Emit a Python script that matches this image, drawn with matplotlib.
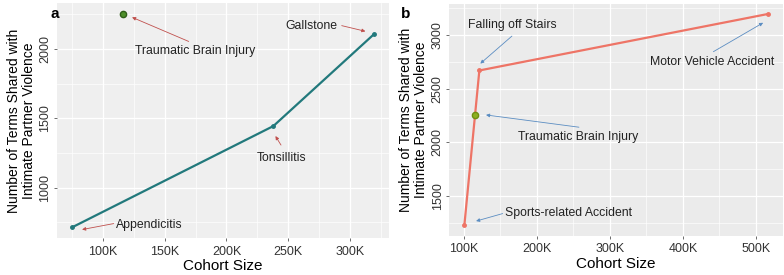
import matplotlib
matplotlib.use("Agg")
import matplotlib.pyplot as plt
from matplotlib.ticker import FuncFormatter, MultipleLocator

plt.rcParams['font.family'] = ['Liberation Sans', 'DejaVu Sans']

# panel a: conditions on the line
a_names = ['Appendicitis', 'Tonsillitis', 'Gallstone']
a_cohort = [74900, 238000, 319500]
a_terms = [715, 1445, 2107]

# panel b: accident types on the line
b_names = ['Sports-related Accident', 'Falling off Stairs', 'Motor Vehicle Accident']
b_cohort = [100800, 121300, 516000]
b_terms = [1231, 2669, 3194]

# traumatic brain injury (highlighted point, both panels)
tbi_name = 'Traumatic Brain Injury'
tbi_cohort = 116000
tbi_terms = 2255

# annotation placement: (label, arrow head xy, text xy, arrow tail xy)
a_notes = [
    (tbi_name, (123500, 2229), (174800, 1985), (169400, 2055)),
    ('Gallstone', (312600, 2128), (268500, 2164), (293400, 2169)),
    ('Tonsillitis', (239700, 1373), (244500, 1213), (244200, 1308)),
    ('Appendicitis', (83000, 699), (137800, 732), (108600, 742)),
]
b_notes = [
    ('Falling off Stairs', (122600, 2733), (166800, 3088), (165900, 2989)),
    (tbi_name, (130400, 2255), (256400, 2048), (257700, 2141)),
    ('Motor Vehicle Accident', (510000, 3113), (439700, 2752), (441900, 2844)),
    ('Sports-related Accident', (116800, 1267), (243200, 1347), (153200, 1337)),
]

ylabel = 'Number of Terms Shared with\nIntimate Partner Violence'


def k_fmt(v, pos):
    return f'{int(round(v / 1000))}K'


def style_axes(ax, bg, xmaj, ymaj):
    ax.set_facecolor(bg)
    for s in ax.spines.values():
        s.set_visible(False)
    ax.xaxis.set_major_locator(MultipleLocator(xmaj))
    ax.xaxis.set_minor_locator(MultipleLocator(xmaj / 2))
    ax.yaxis.set_major_locator(MultipleLocator(ymaj))
    ax.yaxis.set_minor_locator(MultipleLocator(ymaj / 2))
    ax.xaxis.set_major_formatter(FuncFormatter(k_fmt))
    ax.grid(which='major', color='white', lw=0.9)
    ax.grid(which='minor', color='white', lw=0.45)
    ax.set_axisbelow(True)
    ax.tick_params(which='major', length=2.5, width=0.6, color='#555555',
                   labelsize=9, labelcolor='#333333')
    ax.tick_params(which='minor', length=0)
    ax.tick_params(axis='x', pad=3)
    ax.tick_params(axis='y', pad=1.5)
    ax.set_xlabel('Cohort Size', fontsize=11, labelpad=1)
    ax.set_ylabel(ylabel, fontsize=10, linespacing=1.05)
    ax.yaxis.set_label_coords(-0.064, 0.5)
    ax.margins(0.05)


def add_notes(ax, notes, color):
    for label, head, txt, tail in notes:
        ax.annotate('', xy=head, xytext=tail,
                    arrowprops=dict(arrowstyle='-|>', color=color, lw=0.6,
                                    mutation_scale=5, shrinkA=0, shrinkB=0))
        ax.text(txt[0], txt[1], label, fontsize=8.8, color='#222222',
                ha='center', va='center')


fig = plt.figure(figsize=(7.84, 2.75), dpi=100)

ax_a = fig.add_axes([0.0727, 0.1345, 0.4235, 0.8545])
ax_a.plot(a_cohort, a_terms, color='#22797C', lw=1.6, marker='o', ms=2.5)
ax_a.plot([tbi_cohort], [tbi_terms], 'o', color='#4E8F2A', mec='#2F5F18', ms=4.5)
style_axes(ax_a, '#EFEFEF', 50000, 500)
add_notes(ax_a, a_notes, '#C0504D')

ax_b = fig.add_axes([0.573, 0.1436, 0.4253, 0.8436])
ax_b.plot(b_cohort, b_terms, color='#EE7466', lw=1.6, marker='o', ms=2.5)
ax_b.plot([tbi_cohort], [tbi_terms], 'o', color='#8DB020', mec='#6E8F10', ms=4.5)
style_axes(ax_b, '#EBEBEB', 100000, 500)
add_notes(ax_b, b_notes, '#5B8DC2')

for ax in (ax_a, ax_b):
    for lab in ax.get_yticklabels():
        lab.set_rotation(90)
        lab.set_va('center')

fig.text(0.064, 0.975, 'a', fontsize=11, fontweight='bold', ha='left', va='top')
fig.text(0.512, 0.975, 'b', fontsize=11, fontweight='bold', ha='left', va='top')

fig.savefig('out.png', dpi=100)
